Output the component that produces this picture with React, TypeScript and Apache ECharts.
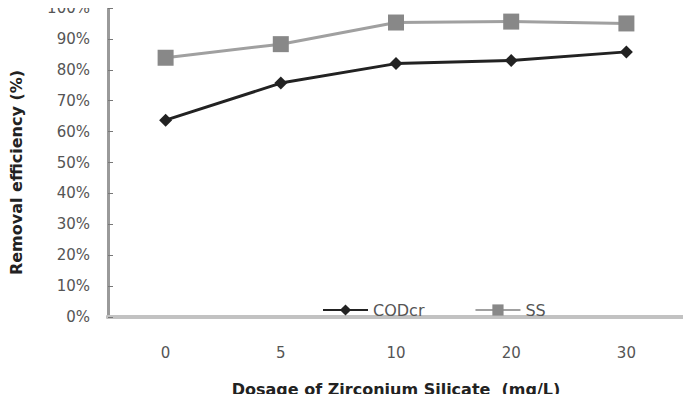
import React, { useEffect, useRef } from "react";
import * as echarts from "echarts";

const categories = ["0", "5", "10", "20", "30"];
const codcr = [63.7, 75.7, 82, 83, 85.8];
const ss = [83.9, 88.3, 95.3, 95.6, 95];
const yTicks = [0, 10, 20, 30, 40, 50, 60, 70, 80, 90, 100];

export default function App() {
  const ref = useRef<HTMLDivElement>(null);
  useEffect(() => {
    if (!ref.current) return;
    const chart = echarts.init(ref.current, undefined, { renderer: "svg" });
    chart.setOption({
      animation: false,
      backgroundColor: "#fff",
      textStyle: { fontFamily: "DejaVu Sans" },
      grid: {
        left: 108,
        right: 7,
        top: 8,
        bottom: 77,
      },
      legend: {
        left: 317,
        top: 297,
        itemGap: 50,
        itemWidth: 45,
        itemHeight: 14,
        textStyle: { color: "#555", fontSize: 16 },
        data: ["CODcr", "SS"],
      },
      xAxis: [
        {
          type: "category",
          data: categories,
          boundaryGap: true,
          name: "Dosage of Zirconium Silicate  (mg/L)",
          nameLocation: "middle",
          nameGap: 64,
          nameTextStyle: { color: "#222", fontSize: 16, fontWeight: "bold" },
          axisLine: { lineStyle: { color: "#9a9a9a", width: 4 } },
          axisTick: { inside: true, length: 5, lineStyle: { color: "#777" } },
          axisLabel: { color: "#555", fontSize: 15, margin: 28 },
        },
        {
          type: "category",
          position: "top",
          data: categories,
          axisLine: { show: true, lineStyle: { color: "#c2c2c2", width: 4 } },
          axisTick: { show: false },
          axisLabel: { show: false },
        },
      ],
      yAxis: [
        {
          type: "value",
          min: 0,
          max: 100,
          interval: 10,
          name: "Removal efficiency (%)",
          nameLocation: "middle",
          nameGap: 84,
          nameTextStyle: {
            color: "#222",
            fontSize: 16,
            fontWeight: "bold",
            padding: [0, 20, 0, 0],
          },
          axisLine: { show: true, lineStyle: { color: "#9a9a9a", width: 3 } },
          axisTick: { show: true, inside: true, length: 5, lineStyle: { color: "#777" } },
          splitLine: { show: false },
          axisLabel: {
            color: "#555",
            fontSize: 15,
            margin: 18,
            formatter: (v: number) => (yTicks.includes(v) ? v + "%" : ""),
          },
        },
        {
          type: "value",
          position: "right",
          min: 0,
          max: 100,
          interval: 10,
          axisLine: { show: true, lineStyle: { color: "#666", width: 2 } },
          axisTick: { show: false },
          axisLabel: { show: false },
          splitLine: { show: false },
        },
      ],
      series: [
        {
          name: "CODcr",
          type: "line",
          data: codcr,
          symbol: "diamond",
          symbolSize: 13,
          itemStyle: { color: "#222" },
          lineStyle: { color: "#222", width: 3 },
        },
        {
          name: "SS",
          type: "line",
          data: ss,
          symbol: "rect",
          symbolSize: 16,
          itemStyle: { color: "#888" },
          lineStyle: { color: "#a0a0a0", width: 3 },
        },
      ],
    });
    return () => chart.dispose();
  }, []);
  return <div ref={ref} style={{ width: 691, height: 402, margin: -8 }} />;
}
